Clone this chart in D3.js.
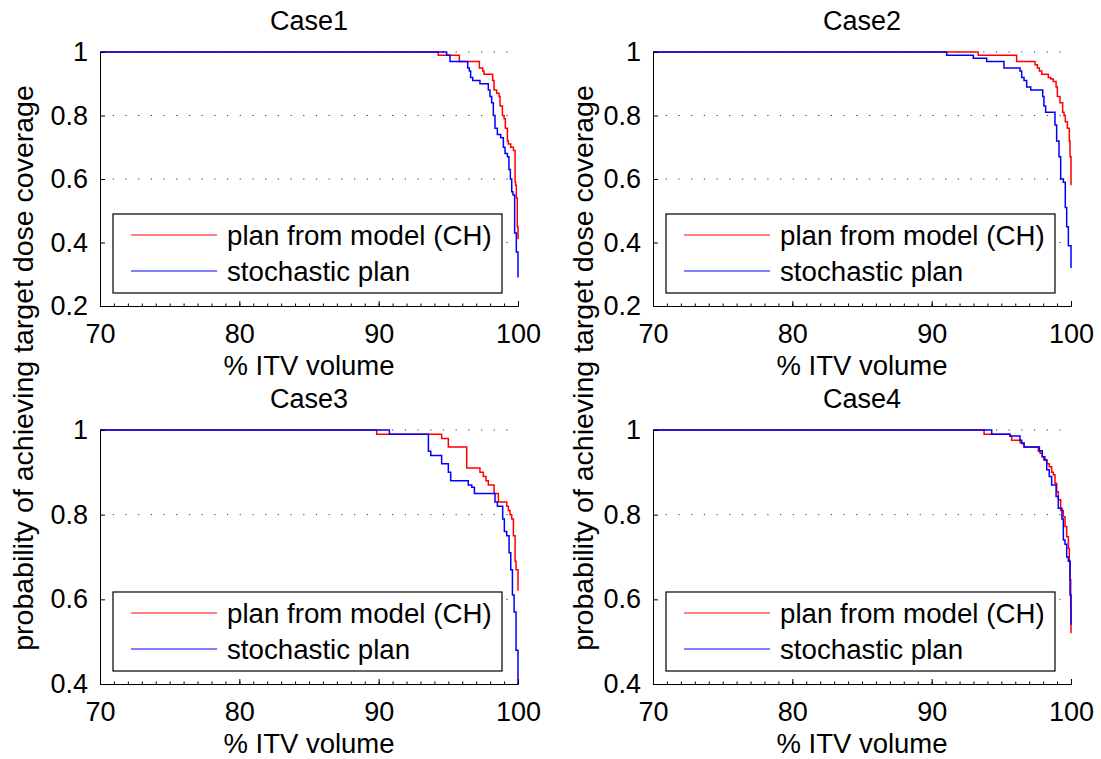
<!DOCTYPE html>
<html>
<head>
<meta charset="utf-8">
<script src="https://d3js.org/d3.v7.min.js"></script>
<style>
    body { margin: 0; background: #fff; }
    text { font-family: "Liberation Sans", Arial, Helvetica, sans-serif; fill: #000; }
    .axis path, .axis line { stroke: #000; stroke-width: 1; }
    .axis text { font-size: 27px; }
    .gridLine { stroke: #333; stroke-width: 1; stroke-dasharray: 1.2,11.5; }
</style>
</head>
<body>
<script>
(function (){

    //chart values
    var caseNames = ["Case1", "Case2", "Case3", "Case4"];
    var seriesNames = ["plan from model (CH)", "stochastic plan"];
    var seriesColors = ["#ff0000", "#0000ff"];
    var xTicks = [70, 80, 90, 100];
    var yTicksTop = [0.2, 0.4, 0.6, 0.8, 1];
    var yTicksBottom = [0.4, 0.6, 0.8, 1];
    var xLabel = "% ITV volume";
    var yLabel = "probability of achieving target dose coverage";

    //case 1
    var case1PlanX = [70, 94.28, 95.79, 97.23, 97.47, 97.56, 98.18, 98.28, 98.47, 98.64, 98.71, 98.88, 99.0, 99.09, 99.24, 99.31, 99.48, 99.67, 99.79, 99.83, 99.88, 99.95, 100];
    var case1PlanY = [1, 0.99, 0.97, 0.95, 0.94, 0.93, 0.91, 0.88, 0.87, 0.86, 0.83, 0.80, 0.79, 0.76, 0.72, 0.71, 0.70, 0.69, 0.59, 0.58, 0.54, 0.45, 0.41];
    var case1StochX = [70, 94.88, 95.12, 96.39, 96.51, 96.6, 96.75, 97.27, 97.87, 97.99, 98.11, 98.23, 98.35, 98.52, 98.76, 98.95, 99.07, 99.24, 99.35, 99.45, 99.55, 99.64, 99.76, 99.88, 100];
    var case1StochY = [1, 0.99, 0.97, 0.95, 0.94, 0.92, 0.91, 0.90, 0.88, 0.86, 0.84, 0.80, 0.76, 0.74, 0.73, 0.70, 0.68, 0.67, 0.63, 0.60, 0.56, 0.55, 0.43, 0.37, 0.29];

    //case 2
    var case2PlanX = [70, 93.35, 96.1, 97.42, 97.58, 97.73, 97.9, 98.37, 98.54, 98.73, 98.93, 99.02, 99.21, 99.4, 99.5, 99.59, 99.74, 99.88, 99.93, 100];
    var case2PlanY = [1, 0.99, 0.97, 0.96, 0.95, 0.94, 0.93, 0.92, 0.915, 0.907, 0.89, 0.86, 0.84, 0.81, 0.80, 0.78, 0.76, 0.72, 0.67, 0.58];
    var case2StochX = [70, 91.08, 92.99, 93.95, 95.19, 96.34, 96.46, 96.63, 96.82, 97.11, 97.97, 98.06, 98.18, 98.85, 98.97, 99.14, 99.26, 99.45, 99.59, 99.69, 99.81, 100];
    var case2StochY = [1, 0.99, 0.98, 0.97, 0.95, 0.94, 0.92, 0.91, 0.89, 0.88, 0.86, 0.83, 0.81, 0.77, 0.72, 0.67, 0.60, 0.59, 0.51, 0.45, 0.39, 0.32];

    //case 3
    var case3PlanX = [70, 89.86, 94.52, 95.0, 96.32, 97.27, 97.51, 97.7, 97.87, 98.28, 98.59, 99.19, 99.31, 99.43, 99.55, 99.67, 99.79, 99.86, 100];
    var case3PlanY = [1, 0.99, 0.98, 0.96, 0.91, 0.90, 0.89, 0.88, 0.87, 0.85, 0.83, 0.82, 0.81, 0.80, 0.79, 0.75, 0.69, 0.67, 0.62];
    var case3StochX = [70, 90.77, 93.57, 93.74, 94.52, 95.0, 95.17, 96.43, 96.68, 96.87, 98.35, 98.52, 98.9, 99.02, 99.19, 99.36, 99.48, 99.6, 99.72, 99.86, 100];
    var case3StochY = [1, 0.99, 0.95, 0.94, 0.92, 0.90, 0.88, 0.87, 0.865, 0.85, 0.83, 0.82, 0.79, 0.76, 0.75, 0.71, 0.67, 0.61, 0.57, 0.48, 0.40];

    //case 4
    var case4PlanX = [70, 93.76, 95.62, 95.74, 96.34, 96.63, 97.66, 97.78, 97.94, 98.14, 98.26, 98.44, 98.61, 98.73, 98.85, 98.97, 99.09, 99.26, 99.45, 99.57, 99.69, 99.81, 99.88, 99.93, 99.98, 100];
    var case4PlanY = [1, 0.99, 0.985, 0.976, 0.97, 0.96, 0.95, 0.945, 0.937, 0.93, 0.92, 0.913, 0.90, 0.894, 0.874, 0.854, 0.835, 0.81, 0.795, 0.772, 0.748, 0.72, 0.69, 0.646, 0.583, 0.52];
    var case4StochX = [70, 94.31, 95.62, 96.34, 96.46, 96.63, 97.73, 97.94, 98.06, 98.26, 98.44, 98.61, 98.93, 99.09, 99.35, 99.45, 99.57, 99.69, 99.81, 99.93, 100];
    var case4StochY = [1, 0.99, 0.986, 0.976, 0.968, 0.96, 0.951, 0.937, 0.929, 0.906, 0.89, 0.87, 0.843, 0.815, 0.79, 0.74, 0.73, 0.70, 0.69, 0.61, 0.54];

    var planX = [case1PlanX, case2PlanX, case3PlanX, case4PlanX],
        planY = [case1PlanY, case2PlanY, case3PlanY, case4PlanY],
        stochX = [case1StochX, case2StochX, case3StochX, case4StochX],
        stochY = [case1StochY, case2StochY, case3StochY, case4StochY];

    //figure frame
    var width = 1101,
        height = 759,
        axWidth = 418,
        axHeight = 254,
        colLeft = [100, 653],
        rowTop = [52, 430];

    var svg = d3.select("body")
        .append("svg")
        .attr("width", width)
        .attr("height", height);

    for (var i = 0; i < caseNames.length; i++){
        var col = i % 2,
            row = Math.floor(i / 2);
        drawPanel(i, colLeft[col], rowTop[row], row == 0 ? yTicksTop : yTicksBottom);
    }

    //one y label per column
    colLeft.forEach(function(left, c){
        var lx = c == 0 ? 33 : 593;
        svg.append("text")
            .attr("transform", "translate(" + lx + "," + (rowTop[0] + rowTop[1] + axHeight) / 2 + ") rotate(-90)")
            .attr("text-anchor", "middle")
            .style("font-size", "28.5px")
            .text(yLabel);
    });

    function drawPanel(idx, left, top, yTicks){
        var g = svg.append("g")
            .attr("transform", "translate(" + left + "," + top + ")");

        var x = d3.scaleLinear()
            .domain([70, 100])
            .range([0, axWidth]);

        var y = d3.scaleLinear()
            .domain([yTicks[0], 1])
            .range([axHeight, 0]);

        //dotted grid at y ticks
        g.selectAll(".gridLine")
            .data(yTicks.slice(1))
            .enter()
            .append("line")
            .attr("class", "gridLine")
            .attr("x1", 0)
            .attr("x2", axWidth)
            .attr("y1", function(d){ return y(d); })
            .attr("y2", function(d){ return y(d); });

        //curves, plan first then stochastic on top
        var line = d3.line()
            .x(function(d){ return x(d[0]); })
            .y(function(d){ return y(d[1]); })
            .curve(d3.curveStepAfter);

        var series = [d3.zip(planX[idx], planY[idx]), d3.zip(stochX[idx], stochY[idx])];
        series.forEach(function(pts, s){
            g.append("path")
                .datum(pts)
                .attr("fill", "none")
                .attr("stroke", seriesColors[s])
                .attr("stroke-width", 1.5)
                .attr("d", line);
        });

        //minor x ticks
        g.append("g")
            .attr("class", "axis")
            .attr("transform", "translate(0," + axHeight + ")")
            .call(d3.axisBottom(x).tickValues(d3.range(70, 101, 1)).tickSize(-2.5).tickSizeOuter(0).tickFormat(""));

        //x axis
        g.append("g")
            .attr("class", "axis")
            .attr("transform", "translate(0," + axHeight + ")")
            .call(d3.axisBottom(x).tickValues(xTicks).tickSize(-5).tickSizeOuter(0).tickPadding(18));

        //y axis
        g.append("g")
            .attr("class", "axis")
            .call(d3.axisLeft(y).tickValues(yTicks).tickSize(-5).tickSizeOuter(0).tickPadding(12)
                .tickFormat(function(d){ return d == 1 ? "1" : d3.format(".1f")(d); }));

        g.selectAll(".axis .domain").attr("stroke", "#000");

        //title
        g.append("text")
            .attr("x", axWidth / 2)
            .attr("y", -22)
            .attr("text-anchor", "middle")
            .style("font-size", "27px")
            .text(caseNames[idx]);

        //x label
        g.append("text")
            .attr("x", axWidth / 2)
            .attr("y", axHeight + 69)
            .attr("text-anchor", "middle")
            .style("font-size", "27.5px")
            .text(xLabel);

        //legend box
        var lg = g.append("g")
            .attr("transform", "translate(13," + (axHeight - 92) + ")");

        lg.append("rect")
            .attr("width", axWidth - 29)
            .attr("height", 79)
            .attr("fill", "#fff")
            .attr("stroke", "#000")
            .attr("stroke-width", 1.2);

        seriesNames.forEach(function(name, s){
            lg.append("line")
                .attr("x1", 18)
                .attr("x2", 104)
                .attr("y1", 21 + s * 36)
                .attr("y2", 21 + s * 36)
                .attr("stroke", seriesColors[s])
                .attr("stroke-width", 1.2);
            lg.append("text")
                .attr("x", 114)
                .attr("y", 31 + s * 36)
                .style("font-size", "27.7px")
                .text(name);
        });
    }

})();
</script>
</body>
</html>
